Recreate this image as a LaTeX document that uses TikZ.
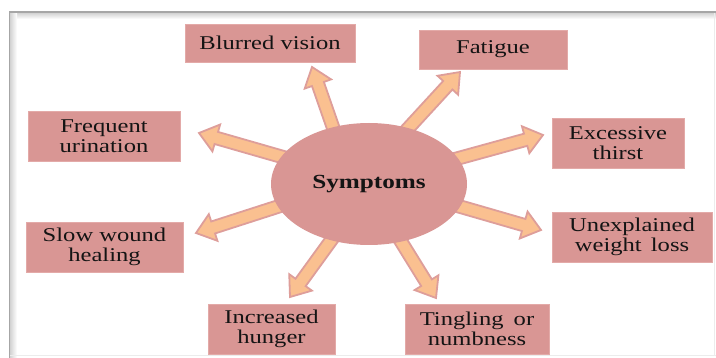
\documentclass[tikz,border=0pt]{standalone}
\usepackage{fontspec}
\setmainfont[FakeStretch=1.26]{Liberation Serif}
\usetikzlibrary{calc,shapes.geometric}
\definecolor{boxfill}{HTML}{D99694}
\definecolor{boxline}{HTML}{E3AAA8}
\definecolor{arrfill}{HTML}{FAC090}
\definecolor{arrline}{HTML}{DE9E9A}
\tikzset{
  symbox/.style={fill=boxfill, draw=boxline, line width=0.8pt, align=center,
    inner sep=0pt, font=\fontsize{19.5}{20.5}\selectfont, text=black!92},
  symarr/.style={fill=arrfill, draw=arrline, line width=1.8pt, line join=miter},
}
\newcommand\symarrow[2]{%
  \coordinate (#1h) at ($(#2)!18pt!(#1)$);
  \draw[symarr] ($(#1)!6.3pt!90:(#2)$) -- ($(#1h)!6.3pt!90:(#2)$)
    -- ($(#1h)!14pt!90:(#2)$) -- (#2) -- ($(#1h)!14pt!-90:(#2)$)
    -- ($(#1h)!6.3pt!-90:(#2)$) -- ($(#1)!6.3pt!-90:(#2)$) -- cycle;}
\begin{document}
\begin{tikzpicture}[x=1pt,y=-1pt]
\useasboundingbox (0,0) rectangle (716,358);
\fill[white] (0,0) rectangle (716,358);
% frame
\shade[top color=gray!40, bottom color=white] (9,12) rectangle (716,19);
\shade[left color=gray!40, right color=white] (9,12) rectangle (17,358);
\draw[gray!70, line width=1.5pt] (9.5,358) -- (9.5,12) -- (716,12);
\draw[gray!15, line width=1pt] (10,356) -- (716,356);
\draw[gray!15, line width=1pt] (714,13) -- (714,356);
% arrow coordinates
\coordinate (b1) at (336,136); \coordinate (t1) at (312,67);
\coordinate (b2) at (403,134); \coordinate (t2) at (460,72);
\coordinate (b3) at (452,160); \coordinate (t3) at (543,135);
\coordinate (b4) at (451,204); \coordinate (t4) at (541,230);
\coordinate (b5) at (397,235); \coordinate (t5) at (436,298);
\coordinate (b6) at (335,235); \coordinate (t6) at (290,297);
\coordinate (b7) at (286,204); \coordinate (t7) at (196,233);
\coordinate (b8) at (293,160); \coordinate (t8) at (199,133);
\symarrow{b1}{t1}
\symarrow{b2}{t2}
\symarrow{b3}{t3}
\symarrow{b4}{t4}
\symarrow{b5}{t5}
\symarrow{b6}{t6}
\symarrow{b7}{t7}
\symarrow{b8}{t8}
% centre
\node[fill=boxfill, ellipse, minimum width=196pt, minimum height=122pt, inner sep=0pt,
  font=\fontsize{20}{21}\selectfont\bfseries, text=black!92] (sym) at (369,184) {Symptoms};
% boxes
\node[symbox, minimum width=170pt, minimum height=38pt] (blur) at (270,43) {Blurred vision};
\node[symbox, minimum width=148pt, minimum height=39pt] (fat) at (493,49.5) {Fatigue};
\node[symbox, minimum width=132pt, minimum height=50pt] (thirst) at (618,143) {Excessive\\thirst};
\node[symbox, minimum width=160pt, minimum height=50pt] (weight) at (632,237) {Unexplained\\weight\hspace{3pt} loss};
\node[symbox, minimum width=144pt, minimum height=50pt] (ting) at (477,329) {Tingling\hspace{4pt} or\\numbness};
\node[symbox, minimum width=127pt, minimum height=50pt] (hung) at (271.5,329) {Increased\\hunger};
\node[symbox, minimum width=157pt, minimum height=50pt] (slow) at (104.5,247) {Slow wound\\healing};
\node[symbox, minimum width=152pt, minimum height=50pt] (freq) at (104,136) {Frequent\\urination};
\end{tikzpicture}
\end{document}
